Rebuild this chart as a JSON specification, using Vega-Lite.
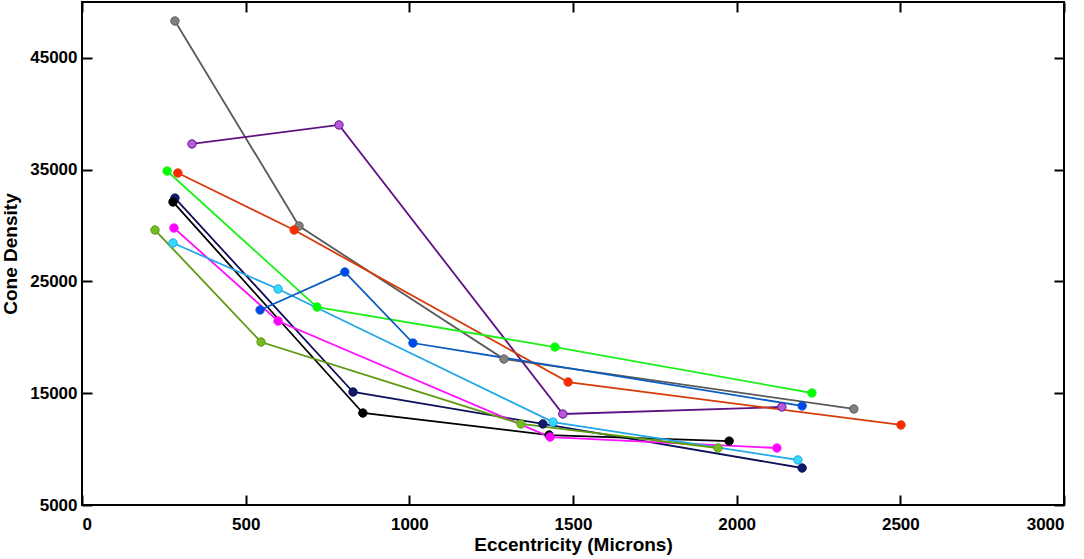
{
  "$schema": "https://vega.github.io/schema/vega-lite/v6.json",
  "width": 982,
  "height": 503,
  "autosize": "none",
  "padding": {"left": 82, "top": 2, "right": 20, "bottom": 54},
  "background": "white",
  "config": {
    "view": {"stroke": "black", "strokeWidth": 2},
    "font": "Liberation Sans",
    "axis": {
      "grid": false,
      "domain": false,
      "ticks": true,
      "tickColor": "black",
      "tickWidth": 2,
      "tickSize": -10,
      "labelFont": "Liberation Sans",
      "labelFontWeight": "bold",
      "labelFontSize": 17,
      "labelColor": "black",
      "titleFont": "Liberation Sans",
      "titleFontWeight": "bold",
      "titleFontSize": 19,
      "titleColor": "black"
    }
  },
  "data": {
    "values": [
      {"series": "gray", "ecc": 284, "density": 48300},
      {"series": "gray", "ecc": 663, "density": 29960},
      {"series": "gray", "ecc": 1289, "density": 18060},
      {"series": "gray", "ecc": 2358, "density": 13590},
      {"series": "purple", "ecc": 336, "density": 37300},
      {"series": "purple", "ecc": 785, "density": 39000},
      {"series": "purple", "ecc": 1469, "density": 13140},
      {"series": "purple", "ecc": 2138, "density": 13770},
      {"series": "red", "ecc": 293, "density": 34700},
      {"series": "red", "ecc": 648, "density": 29600},
      {"series": "red", "ecc": 1485, "density": 16000},
      {"series": "red", "ecc": 2502, "density": 12160},
      {"series": "green", "ecc": 260, "density": 34880},
      {"series": "green", "ecc": 718, "density": 22710},
      {"series": "green", "ecc": 1445, "density": 19130},
      {"series": "green", "ecc": 2230, "density": 15020},
      {"series": "navy", "ecc": 284, "density": 32460},
      {"series": "navy", "ecc": 828, "density": 15110},
      {"series": "navy", "ecc": 1408, "density": 12250},
      {"series": "navy", "ecc": 2200, "density": 8310},
      {"series": "black", "ecc": 278, "density": 32110},
      {"series": "black", "ecc": 858, "density": 13230},
      {"series": "black", "ecc": 1427, "density": 11260},
      {"series": "black", "ecc": 1977, "density": 10720},
      {"series": "magenta", "ecc": 281, "density": 29780},
      {"series": "magenta", "ecc": 599, "density": 21460},
      {"series": "magenta", "ecc": 1430, "density": 11080},
      {"series": "magenta", "ecc": 2123, "density": 10100},
      {"series": "cyan", "ecc": 278, "density": 28440},
      {"series": "cyan", "ecc": 599, "density": 24320},
      {"series": "cyan", "ecc": 1439, "density": 12420},
      {"series": "cyan", "ecc": 2187, "density": 9030},
      {"series": "olive", "ecc": 223, "density": 29600},
      {"series": "olive", "ecc": 547, "density": 19580},
      {"series": "olive", "ecc": 1341, "density": 12250},
      {"series": "olive", "ecc": 1943, "density": 10100},
      {"series": "blue", "ecc": 544, "density": 22450},
      {"series": "blue", "ecc": 803, "density": 25840},
      {"series": "blue", "ecc": 1011, "density": 19490},
      {"series": "blue", "ecc": 2200, "density": 13860}
    ]
  },
  "layer": [
    {
      "encoding": {
        "x": {
          "field": "ecc",
          "type": "quantitative",
          "scale": {"domain": [0, 3000], "nice": false},
          "axis": {
            "title": "Eccentricity (Microns)",
            "values": [0, 500, 1000, 1500, 2000, 2500, 3000],
            "format": "d",
            "labelPadding": 21,
            "titlePadding": 3
          }
        },
        "y": {
          "field": "density",
          "type": "quantitative",
          "scale": {"domain": [5000, 50000], "nice": false, "zero": false},
          "axis": {
            "title": "Cone Density",
            "values": [5000, 15000, 25000, 35000, 45000],
            "format": "d",
            "labelPadding": 15,
            "titlePadding": 9
          }
        },
        "stroke": {
          "field": "series",
          "type": "nominal",
          "legend": null,
          "scale": {
            "domain": ["gray", "purple", "red", "green", "navy", "black", "magenta", "cyan", "olive", "blue"],
            "range": ["#5a5a5a", "#5e1180", "#d83a08", "#1ef01a", "#0e0e5a", "#000000", "#ff10ff", "#20a8e8", "#5e9a10", "#0a5cc0"]
          }
        }
      },
      "layer": [
        {
          "mark": {"type": "line", "strokeWidth": 1.8},
          "encoding": {"order": {"field": "ecc", "type": "quantitative"}}
        },
        {
          "mark": {"type": "point", "filled": false, "size": 70, "strokeWidth": 1, "opacity": 1},
          "encoding": {
            "fill": {
              "field": "series",
              "type": "nominal",
              "legend": null,
              "scale": {
                "domain": ["gray", "purple", "red", "green", "navy", "black", "magenta", "cyan", "olive", "blue"],
                "range": ["#808080", "#b858dc", "#ff2a00", "#00ff00", "#121a6a", "#000000", "#ff00ff", "#36d8ff", "#74ba24", "#0046f0"]
              }
            }
          }
        }
      ]
    },
    {
      "mark": {"type": "point", "opacity": 0, "size": 1},
      "encoding": {
        "x": {
          "field": "ecc",
          "type": "quantitative",
          "axis": {"orient": "top", "labels": false, "title": null, "values": [0, 500, 1000, 1500, 2000, 2500, 3000]}
        },
        "y": {
          "field": "density",
          "type": "quantitative",
          "axis": {"orient": "right", "labels": false, "title": null, "values": [5000, 15000, 25000, 35000, 45000]}
        }
      }
    }
  ],
  "resolve": {"axis": {"x": "independent", "y": "independent"}}
}
